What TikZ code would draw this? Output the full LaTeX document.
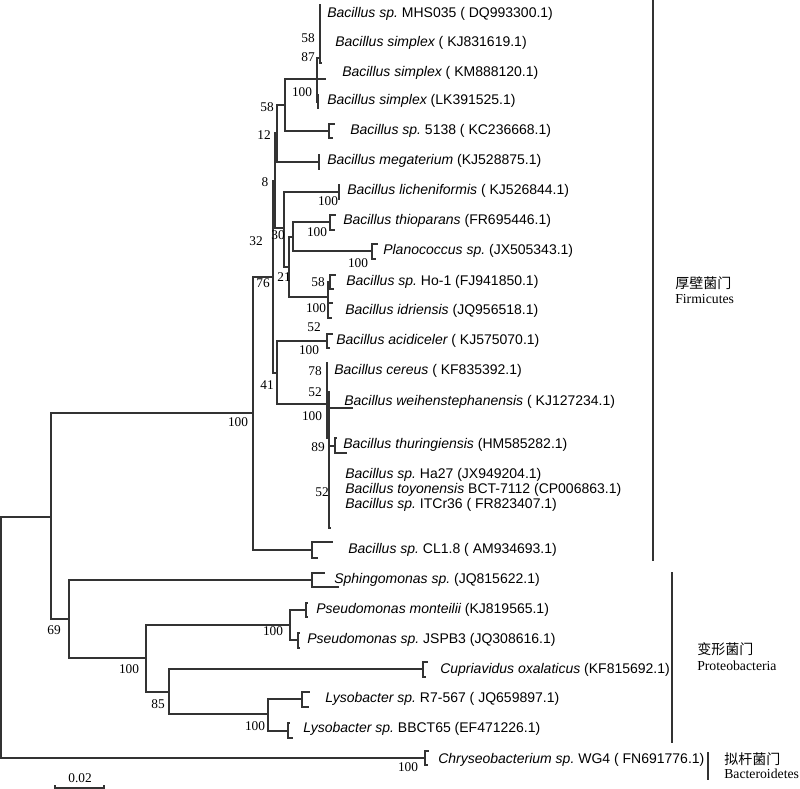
\documentclass[tikz,border=0pt]{standalone}
\usepackage{fontspec}
\newfontfamily\lsans{Liberation Sans}
\newfontfamily\lserif{Liberation Serif}
\newfontfamily\cjk{Noto Sans CJK SC}
\begin{document}
\begin{tikzpicture}[x=0.75pt,y=-0.75pt,
  br/.style={draw=black!80,line width=0.85pt},
  thk/.style={draw=black!80,line width=1.6pt},
  leaf/.style={anchor=west,inner sep=0pt,text height=7.5pt,text depth=0pt,font=\lsans\fontsize{10.5}{12}\selectfont},
  bs/.style={anchor=center,inner sep=0pt,text height=6.8pt,text depth=0pt,font=\lserif\fontsize{10}{12}\selectfont},
  grpzh/.style={anchor=west,inner sep=0pt,font=\cjk\fontsize{10.5}{12}\selectfont},
  grpen/.style={anchor=west,inner sep=0pt,font=\lserif\fontsize{10.3}{12}\selectfont}]
\useasboundingbox (0,0) rectangle (800,789);

% ---------- coordinates of tree nodes ----------
\coordinate (root) at (1,637.5);
\coordinate (X1) at (51,517);
\coordinate (chry) at (425,758);
\coordinate (chryA) at (429,751);
\coordinate (chryB) at (428,765);
\coordinate (A) at (253,413);
\coordinate (Pr) at (69,619);
\coordinate (B) at (273,277);
\coordinate (CL) at (312,550);
\coordinate (CLa) at (333,542);
\coordinate (CLb) at (318,558);
\coordinate (K) at (275,181);
\coordinate (D) at (277,373);
\coordinate (E) at (277,133);
\coordinate (G) at (284,228);
\coordinate (F) at (285,105);
\coordinate (meg) at (319,162);
\coordinate (megA) at (320,155);
\coordinate (megB) at (320,169);
\coordinate (L) at (317,79);
\coordinate (kmTip) at (326,79);
\coordinate (M) at (320,58);
\coordinate (mhsTip) at (321,5);
\coordinate (kjTip) at (322,63);
\coordinate (N) at (318,102);
\coordinate (Na) at (319,95);
\coordinate (Nb) at (319,108);
\coordinate (c5138) at (329,131);
\coordinate (c5138a) at (335,124);
\coordinate (c5138b) at (333,138);
\coordinate (lich) at (339,192);
\coordinate (licha) at (340,185);
\coordinate (lichb) at (340,199);
\coordinate (H) at (289,267);
\coordinate (I) at (293,237);
\coordinate (J) at (328,297);
\coordinate (thio) at (330,222);
\coordinate (thioa) at (336,215);
\coordinate (thiob) at (335,230);
\coordinate (plano) at (372,251);
\coordinate (planoa) at (378,244);
\coordinate (planob) at (376,259);
\coordinate (ho) at (330,282);
\coordinate (hoa) at (336,275);
\coordinate (hob) at (334,289);
\coordinate (idr) at (328,310);
\coordinate (idra) at (333,303);
\coordinate (idrb) at (332,318);
\coordinate (acid) at (327,341);
\coordinate (acida) at (333,334);
\coordinate (acidb) at (330,348);
\coordinate (O) at (327,404);
\coordinate (cer) at (327,371);
\coordinate (cera) at (327.5,363);
\coordinate (cerb) at (327.5,379);
\coordinate (P) at (329,438);
\coordinate (wei) at (353,408);
\coordinate (p52) at (330,392);
\coordinate (thur) at (335,446);
\coordinate (thura) at (337,438);
\coordinate (thurb) at (347,453);
\coordinate (haThick) at (329,476);
\coordinate (haEnd) at (331,528);
% Proteobacteria
\coordinate (sph) at (312,580);
\coordinate (spha) at (325,573);
\coordinate (sphb) at (339,587);
\coordinate (R) at (146,658);
\coordinate (S) at (290,625);
\coordinate (T) at (169,692);
\coordinate (mon) at (306,610);
\coordinate (mona) at (308,603);
\coordinate (monb) at (308,617);
\coordinate (jsp) at (298,640);
\coordinate (jspa) at (300,633);
\coordinate (jspb) at (300,648);
\coordinate (cup) at (423,669);
\coordinate (cupa) at (428,662);
\coordinate (cupb) at (426,677);
\coordinate (U) at (268,714);
\coordinate (lys1) at (302,699);
\coordinate (lys1a) at (310,692);
\coordinate (lys1b) at (309,707);
\coordinate (lys2) at (288,731);
\coordinate (lys2a) at (290,723);
\coordinate (lys2b) at (293,738);

% ---------- branches ----------
\draw[br] (root) |- (X1) (root) |- (chry);
\draw[br] (chry) |- (chryA) (chry) |- (chryB);
\draw[br] (X1) |- (A) (X1) |- (Pr);
\draw[br] (A) |- (B) (A) |- (CL);
\draw[br] (CL) |- (CLa) (CL) |- (CLb);
\draw[br] (B) |- (K) (B) |- (D);
\draw[br] (K) |- (E) (K) |- (G);
\draw[br] (E) |- (F) (E) |- (meg);
\draw[br] (meg) |- (megA) (meg) |- (megB);
\draw[br] (F) |- (L) (F) |- (c5138);
\draw[br] (c5138) |- (c5138a) (c5138) |- (c5138b);
\draw[br] (L) |- (kmTip) (L) |- (M) (L) |- (N);
\draw[br] (M) |- (mhsTip) (M) |- (kjTip);
\draw[thk] (N) |- (Na) (N) |- (Nb);
\draw[br] (G) |- (lich) (G) |- (H);
\draw[br] (lich) |- (licha) (lich) |- (lichb);
\draw[br] (H) |- (I) (H) |- (J);
\draw[br] (I) |- (thio) (I) |- (plano);
\draw[br] (thio) |- (thioa) (thio) |- (thiob);
\draw[br] (plano) |- (planoa) (plano) |- (planob);
\draw[br] (J) |- (ho) (J) |- (idr);
\draw[br] (ho) |- (hoa) (ho) |- (hob);
\draw[br] (idr) |- (idra) (idr) |- (idrb);
\draw[br] (D) |- (acid) (D) |- (O);
\draw[br] (acid) |- (acida) (acid) |- (acidb);
\draw[br] (O) |- (cer) (O) |- (P);
\draw[thk] (cer) |- (cera) (cer) |- (cerb);
\draw[br] (P) |- (wei) (P) |- (p52) (P) |- (thur) (P) |- (haEnd);
\draw[thk] (P) -- (haThick);
\draw[br] (thur) |- (thura) (thur) |- (thurb);
\draw[br] (Pr) |- (sph) (Pr) |- (R);
\draw[br] (sph) |- (spha) (sph) |- (sphb);
\draw[br] (R) |- (S) (R) |- (T);
\draw[br] (S) |- (mon) (S) |- (jsp);
\draw[br] (mon) |- (mona) (mon) |- (monb);
\draw[br] (jsp) |- (jspa) (jsp) |- (jspb);
\draw[br] (T) |- (cup) (T) |- (U);
\draw[br] (cup) |- (cupa) (cup) |- (cupb);
\draw[br] (U) |- (lys1) (U) |- (lys2);
\draw[br] (lys1) |- (lys1a) (lys1) |- (lys1b);
\draw[br] (lys2) |- (lys2a) (lys2) |- (lys2b);

% ---------- leaf labels ----------
\node[leaf] (l1) at (327,12) {\itshape Bacillus sp.\upshape\ MHS035 ( DQ993300.1)};
\node[leaf] (l2) at (335,41) {\itshape Bacillus simplex\upshape\ ( KJ831619.1)};
\node[leaf] (l3) at (342,71) {\itshape Bacillus simplex\upshape\ ( KM888120.1)};
\node[leaf] (l4) at (327,99) {\itshape Bacillus simplex\upshape\ (LK391525.1)};
\node[leaf] (l5) at (350,129) {\itshape Bacillus sp.\upshape\ 5138 ( KC236668.1)};
\node[leaf] (l6) at (327,159) {\itshape Bacillus megaterium\upshape\ (KJ528875.1)};
\node[leaf] (l7) at (347,189) {\itshape Bacillus licheniformis\upshape\ ( KJ526844.1)};
\node[leaf] (l8) at (343,219) {\itshape Bacillus thioparans\upshape\ (FR695446.1)};
\node[leaf] (l9) at (383,249) {\itshape Planococcus sp.\upshape\ (JX505343.1)};
\node[leaf] (l10) at (346,280) {\itshape Bacillus sp.\upshape\ Ho-1 (FJ941850.1)};
\node[leaf] (l11) at (345,309) {\itshape Bacillus idriensis\upshape\ (JQ956518.1)};
\node[leaf] (l12) at (336,339) {\itshape Bacillus acidiceler\upshape\ ( KJ575070.1)};
\node[leaf] (l13) at (334,369) {\itshape Bacillus cereus\upshape\ ( KF835392.1)};
\node[leaf] (l14) at (344,400) {\itshape Bacillus weihenstephanensis\upshape\ ( KJ127234.1)};
\node[leaf] (l15) at (343,443) {\itshape Bacillus thuringiensis\upshape\ (HM585282.1)};
\node[leaf] (l16) at (345,473) {\itshape Bacillus sp.\upshape\ Ha27 (JX949204.1)};
\node[leaf] (l17) at (345,488) {\itshape Bacillus toyonensis\upshape\ BCT-7112 (CP006863.1)};
\node[leaf] (l18) at (345,503) {\itshape Bacillus sp.\upshape\ ITCr36 ( FR823407.1)};
\node[leaf] (l19) at (348,548) {\itshape Bacillus sp.\upshape\ CL1.8 ( AM934693.1)};
\node[leaf] (l20) at (334,578) {\itshape Sphingomonas sp.\upshape\ (JQ815622.1)};
\node[leaf] (l21) at (316,608) {\itshape Pseudomonas monteilii\upshape\ (KJ819565.1)};
\node[leaf] (l22) at (307,638) {\itshape Pseudomonas sp.\upshape\ JSPB3 (JQ308616.1)};
\node[leaf] (l23) at (440,668) {\itshape Cupriavidus oxalaticus\upshape\ (KF815692.1)};
\node[leaf] (l24) at (325,697) {\itshape Lysobacter sp.\upshape\ R7-567 ( JQ659897.1)};
\node[leaf] (l25) at (303,727) {\itshape Lysobacter sp.\upshape\ BBCT65 (EF471226.1)};
\node[leaf] (l26) at (438,758) {\itshape Chryseobacterium sp.\upshape\ WG4 ( FN691776.1)};

% ---------- bootstrap values ----------
\node[bs] (b1) at (308,38) {58};
\node[bs] (b2) at (308,57) {87};
\node[bs] (b3) at (302,92) {100};
\node[bs] (b4) at (267,107) {58};
\node[bs] (b5) at (264,135) {12};
\node[bs] (b6) at (265,182) {8};
\node[bs] (b7) at (328,201) {100};
\node[bs] (b8) at (278,235) {30};
\node[bs] (b9) at (317,232) {100};
\node[bs] (b10) at (256,241) {32};
\node[bs] (b11) at (358,263) {100};
\node[bs] (b12) at (284,277) {21};
\node[bs] (b13) at (263,283) {76};
\node[bs] (b14) at (318,282) {58};
\node[bs] (b15) at (316,308) {100};
\node[bs] (b16) at (314,327) {52};
\node[bs] (b17) at (309,350) {100};
\node[bs] (b18) at (267,385) {41};
\node[bs] (b19) at (315,371) {78};
\node[bs] (b20) at (315,392) {52};
\node[bs] (b21) at (312,416) {100};
\node[bs] (b22) at (238,422) {100};
\node[bs] (b23) at (318,447) {89};
\node[bs] (b24) at (322,492) {52};
\node[bs] (b25) at (54,630) {69};
\node[bs] (b26) at (273,631) {100};
\node[bs] (b27) at (129,669) {100};
\node[bs] (b28) at (158,704) {85};
\node[bs] (b29) at (255,726) {100};
\node[bs] (b30) at (408,767) {100};

% ---------- group bars and labels ----------
\coordinate (firmTop) at (653,0);
\coordinate (firmBot) at (653,561);
\coordinate (proTop) at (672,572);
\coordinate (proBot) at (672,743);
\coordinate (bacTop) at (708,752);
\coordinate (bacBot) at (708,780);
\draw[br] (firmTop) -- (firmBot);
\draw[br] (proTop) -- (proBot);
\draw[br] (bacTop) -- (bacBot);
\node[grpzh] (g1) at (675,283) {厚壁菌门};
\node[grpen] (g1e) at (675,299) {Firmicutes};
\node[grpzh] (g2) at (697,649) {变形菌门};
\node[grpen] (g2e) at (697,666) {Proteobacteria};
\node[grpzh] (g3) at (724,759) {拟杆菌门};
\node[grpen] (g3e) at (724,774) {Bacteroidetes};

% ---------- scale bar ----------
\coordinate (sbL) at (55,788);
\coordinate (sbR) at (104,788);
\coordinate (sbLu) at (55,785);
\coordinate (sbRu) at (104,785);
\draw[br] (sbLu) -- (sbL) -- (sbR) -- (sbRu);
\node[bs] (sbt) at (80,778) {0.02};
\end{tikzpicture}
\end{document}
